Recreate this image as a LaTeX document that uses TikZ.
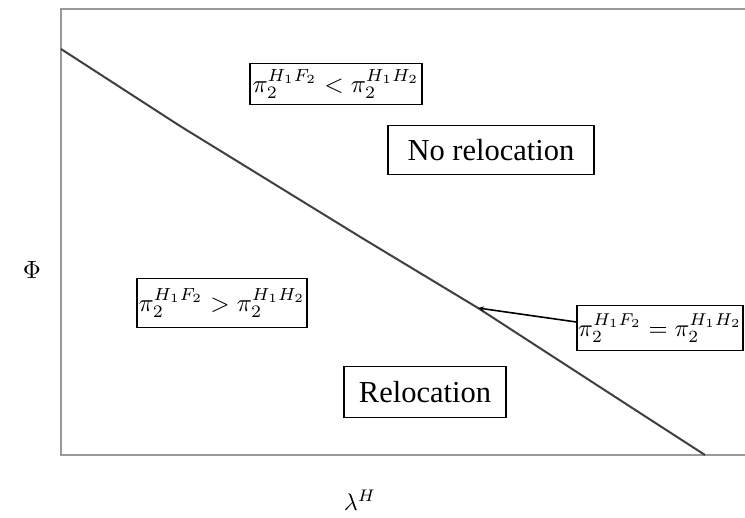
\documentclass[tikz,border=0pt]{standalone}
\usepackage{graphicx}
\usepackage{fontspec}
\setmainfont{Liberation Serif}
\usetikzlibrary{arrows.meta}
\newcommand{\scmath}[2]{\scalebox{#1}{\normalsize$#2$}}
\tikzset{
  lbl/.style={draw=black, line width=1.6pt, fill=white, inner sep=0pt, font=\fontsize{30.5}{32}\selectfont},
  frame/.style={draw=gray!80, line width=2pt},
  curve/.style={draw=black!75, line width=2pt},
}
\begin{document}
\begin{tikzpicture}[x=1pt,y=-1pt]
\useasboundingbox (0,0) rectangle (745,518);
\draw[frame] (745,9) -- (61,9) -- (61,455) -- (745,455);
\coordinate (c0) at (61,49);
\coordinate (c1) at (180,126);
\coordinate (c2) at (362,238);
\coordinate (p) at (478,308);
\coordinate (c4) at (640,413);
\coordinate (c5) at (705,455);
\draw[curve] (c0) -- (c1) -- (c2) -- (p) -- (c4) -- (c5);
\node[lbl, minimum width=172pt, minimum height=41pt] (a) at (336,84) {\scmath{2.5}{\pi_2^{H_1F_2} < \pi_2^{H_1H_2}}};
\node[lbl, minimum width=206pt, minimum height=49pt] (nr) at (491,150) {No relocation};
\node[lbl, minimum width=170pt, minimum height=49pt] (b) at (222,303) {\scmath{2.5}{\pi_2^{H_1F_2} > \pi_2^{H_1H_2}}};
\node[lbl, minimum width=166pt, minimum height=45pt] (e) at (660,328) {\scmath{2.45}{\pi_2^{H_1F_2} = \pi_2^{H_1H_2}}};
\node[lbl, minimum width=162pt, minimum height=51pt] (r) at (425,392) {Relocation};
\draw[line width=1.6pt, -{Stealth[length=6pt,width=5pt]}] (e.west) ++(0,-6) coordinate (ew) -- (p);
\node (phi) at (32,270) {\scmath{2.5}{\Phi}};
\node (lam) at (360,500) {\scmath{2.4}{\lambda^H}};
\end{tikzpicture}
\end{document}
